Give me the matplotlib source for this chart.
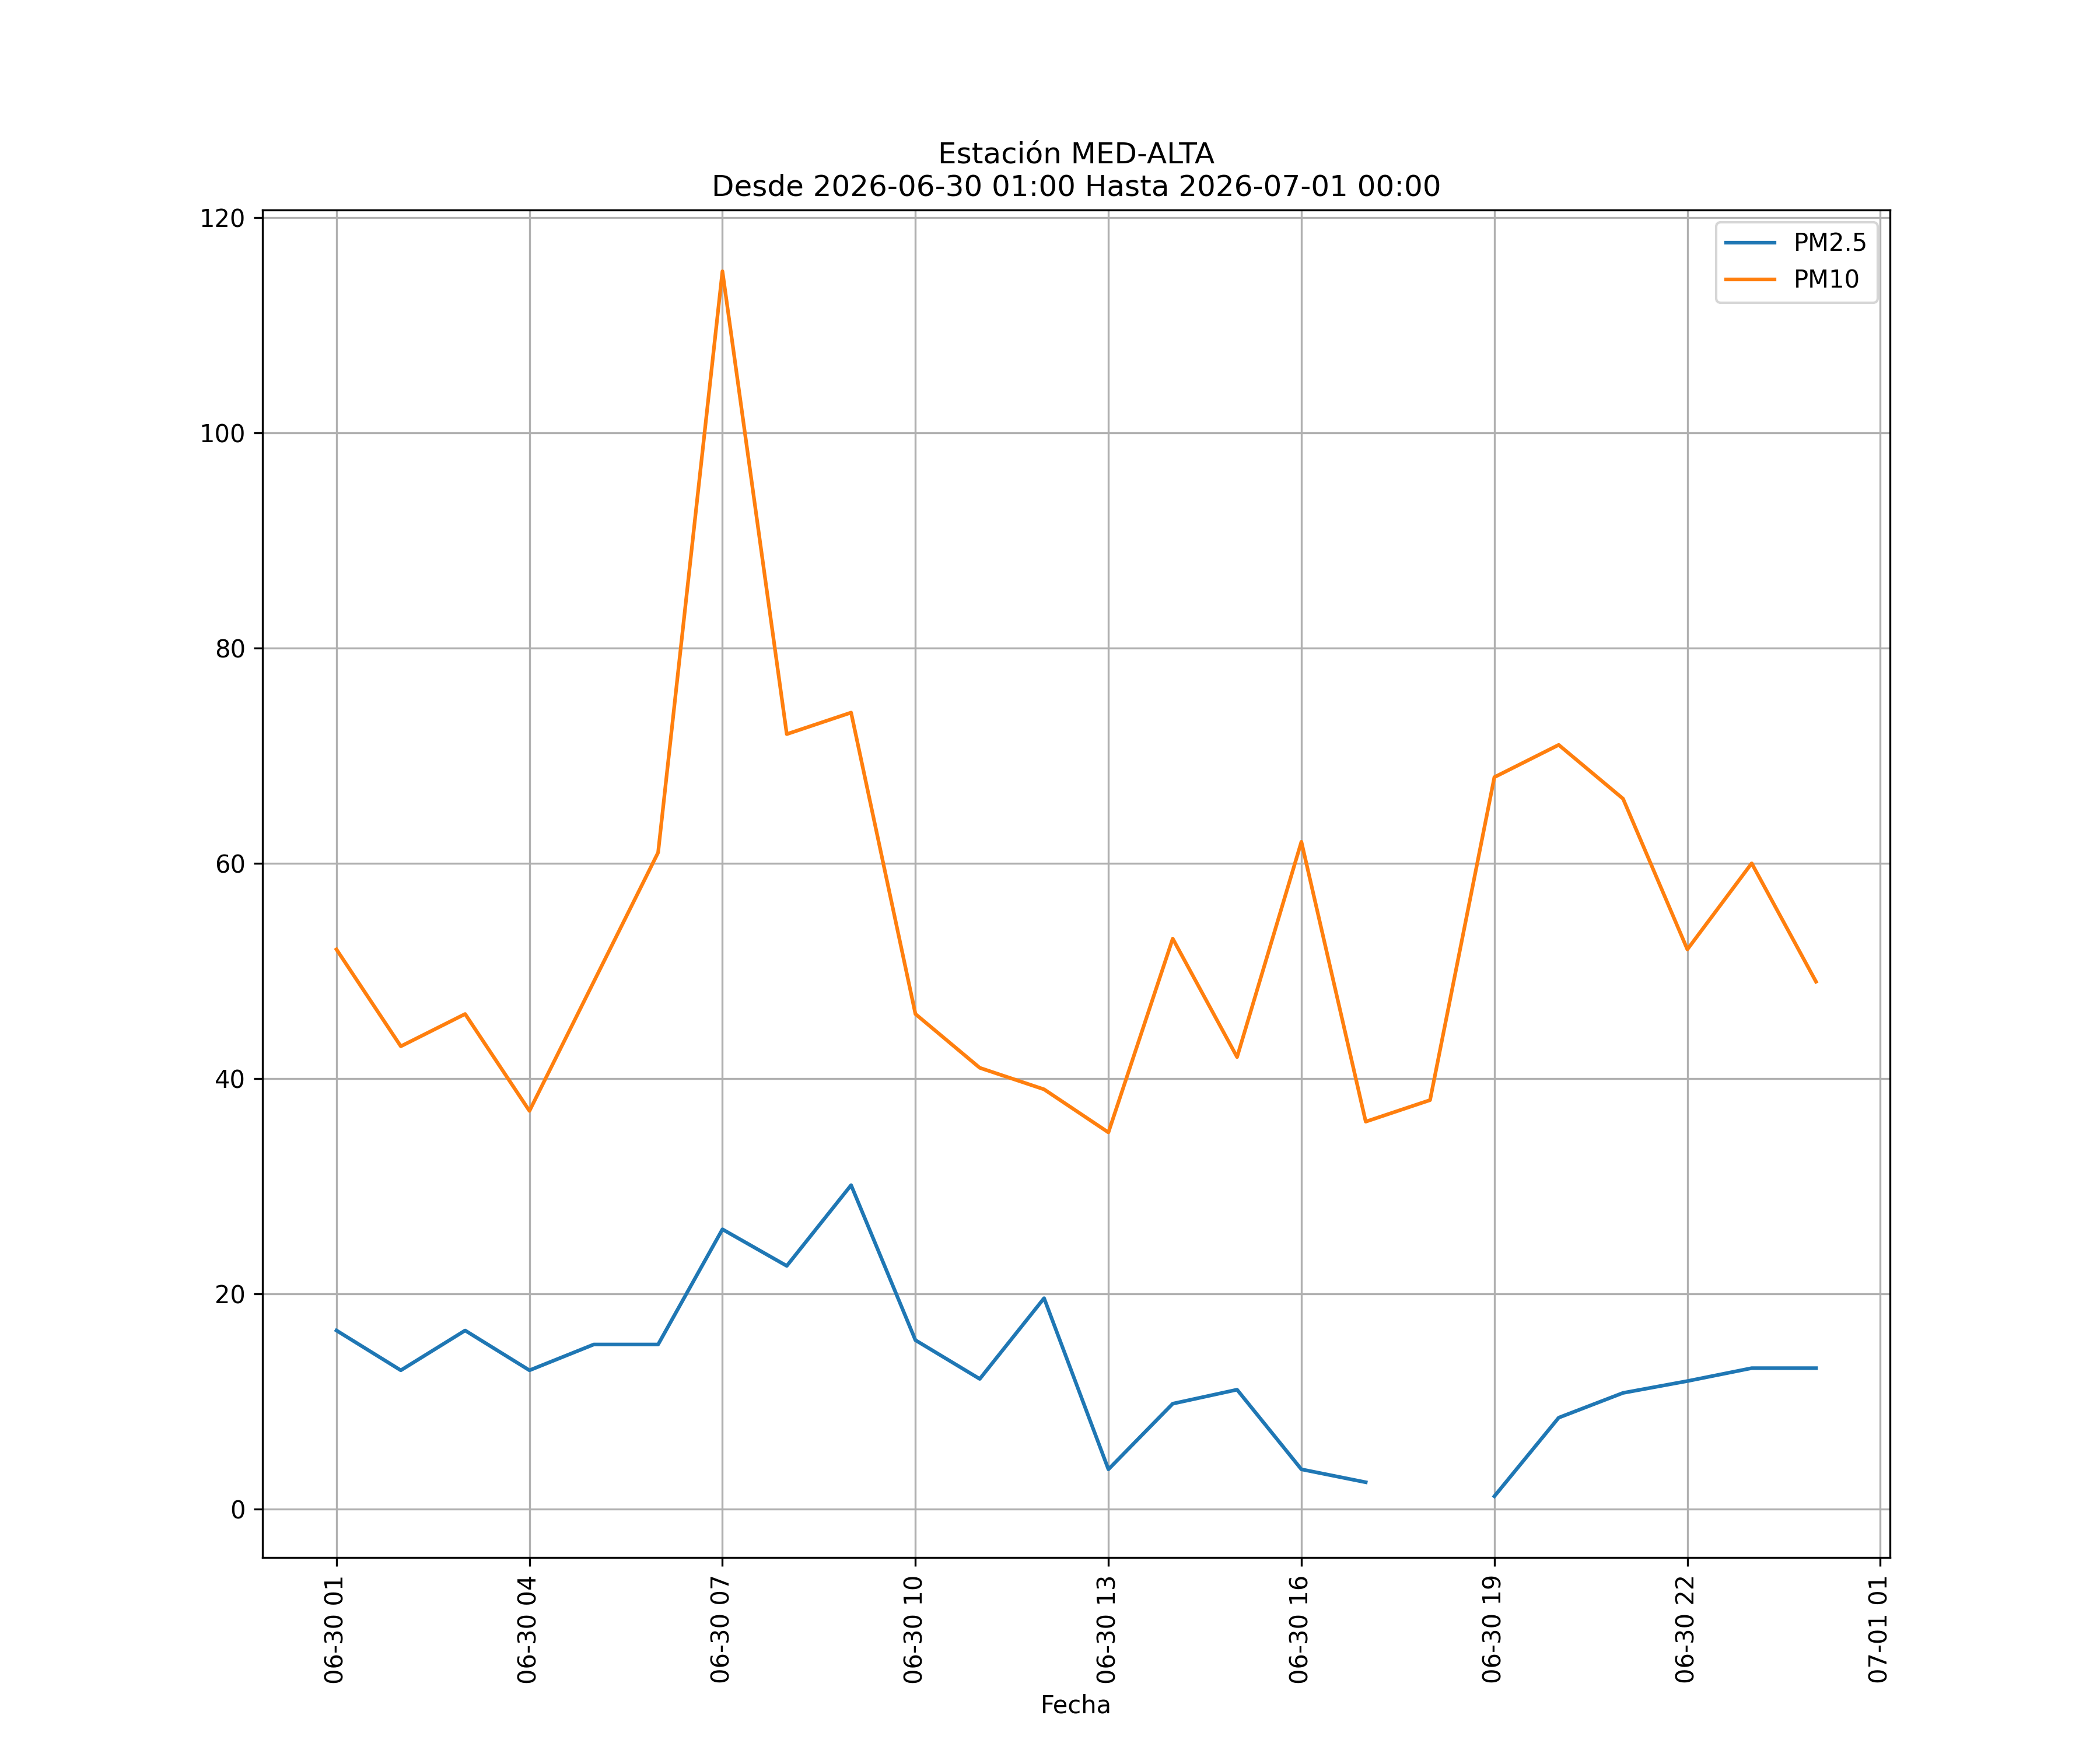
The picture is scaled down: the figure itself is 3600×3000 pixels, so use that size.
import numpy as np
import pandas as pd
import matplotlib
matplotlib.use('Agg')
from matplotlib import pyplot as plt
import matplotlib.dates as mdates

station = 'MED-ALTA'
fechas = pd.date_range('2026-06-30 01:00', '2026-07-01 00:00', freq='h')

pm25 = [16.6, 12.9, 16.6, 12.9, 15.3, 15.3, 26.0, 22.6, 30.1, 15.7, 12.1, 19.6,
        3.7, 9.8, 11.1, 3.7, 2.5, np.nan, 1.2, 8.5, 10.8, 11.9, 13.1, 13.1]
pm10 = [52, 43, 46, 37, 49, 61, 115, 72, 74, 46, 41, 39,
        35, 53, 42, 62, 36, 38, 68, 71, 66, 52, 60, 49]

fig, ax = plt.subplots(figsize=(12, 10), dpi=300)
ax.plot(fechas, pm25, label='PM2.5')
ax.plot(fechas, pm10, label='PM10')

ax.xaxis.set_major_locator(mdates.HourLocator(byhour=range(1, 24, 3)))
ax.xaxis.set_major_formatter(mdates.DateFormatter('%m-%d %H'))
plt.xticks(rotation=90)
ax.grid(True)
ax.legend(loc='upper right')
ax.set_xlabel('Fecha')
ax.set_title('Estación %s\nDesde %s Hasta %s' % (
    station, fechas[0].strftime('%Y-%m-%d %H:%M'),
    fechas[-1].strftime('%Y-%m-%d %H:%M')))

plt.savefig('out.png')
